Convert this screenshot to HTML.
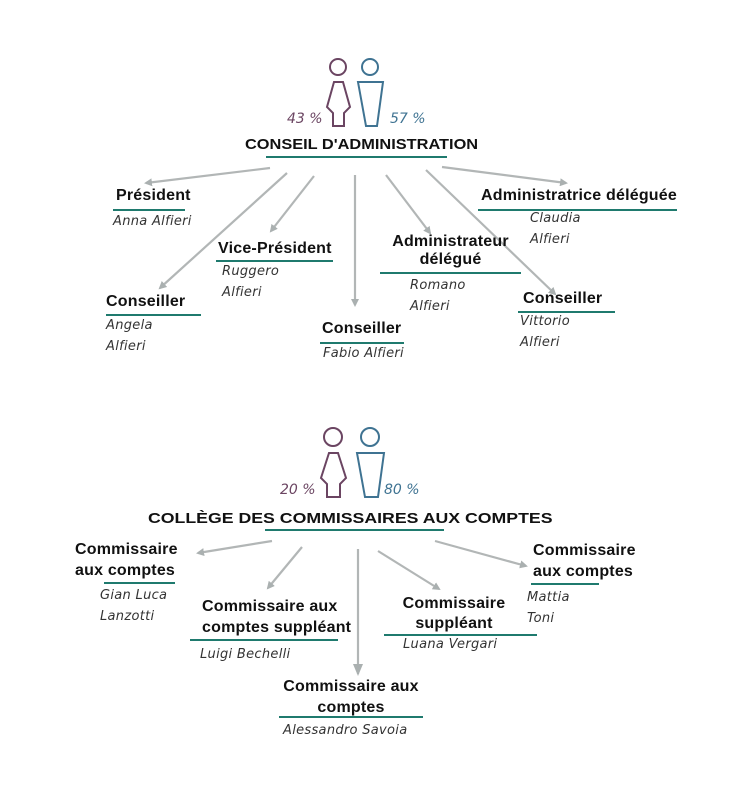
<!DOCTYPE html>
<html><head><meta charset="utf-8"><style>
body{margin:0;width:739px;height:786px;background:#fff;position:relative;overflow:hidden;font-family:"Liberation Sans",Arial,sans-serif}
.b{position:absolute;font-weight:bold;font-size:16px;letter-spacing:0.2px;color:#111;line-height:20px;white-space:nowrap}
.n{position:absolute;font-style:italic;font-size:13px;color:#333;line-height:20.5px;white-space:nowrap;font-family:"DejaVu Sans","Liberation Sans",sans-serif;letter-spacing:0.3px}
.u{position:absolute;height:2px;background:#1f7a6e}
.c{text-align:center}
.t{position:absolute;font-weight:bold;font-size:15px;color:#111;white-space:nowrap;transform-origin:0 50%;line-height:20px}
</style></head><body>
<svg width="739" height="786" style="position:absolute;left:0;top:0">
<defs><marker id="a" markerWidth="8" markerHeight="8" refX="6" refY="4" orient="auto" markerUnits="userSpaceOnUse"><path d="M0,0 L8,4 L0,8 Z" fill="#aab0b0"/></marker>
<marker id="a2" markerWidth="14" markerHeight="10" refX="10" refY="5" orient="auto" markerUnits="userSpaceOnUse"><path d="M0,0 L12,5 L0,10 Z" fill="#aab0b0"/></marker></defs>
<g stroke="#b2b6b6" stroke-width="2.2" fill="none">
<line x1="270" y1="168" x2="146" y2="183" marker-end="url(#a)"/>
<line x1="287" y1="173" x2="160" y2="288" marker-end="url(#a)"/>
<line x1="314" y1="176" x2="271" y2="231" marker-end="url(#a)"/>
<line x1="355" y1="175" x2="355" y2="305" marker-end="url(#a)"/>
<line x1="386" y1="175" x2="430" y2="233" marker-end="url(#a)"/>
<line x1="426" y1="170" x2="555" y2="294" marker-end="url(#a)"/>
<line x1="442" y1="167" x2="566" y2="183" marker-end="url(#a)"/>
<line x1="272" y1="541" x2="198" y2="553" marker-end="url(#a)"/>
<line x1="302" y1="547" x2="268" y2="588" marker-end="url(#a)"/>
<line x1="358" y1="549" x2="358" y2="674" marker-end="url(#a2)"/>
<line x1="378" y1="551" x2="439" y2="589" marker-end="url(#a)"/>
<line x1="435" y1="541" x2="526" y2="566" marker-end="url(#a)"/>
</g>
<g fill="none" stroke-width="2">
<circle cx="338" cy="67" r="8" stroke="#6b4562"/>
<path d="M334,82 L343,82 L350,107 L344,113 L344,126 L333,126 L333,113 L327,107 Z" stroke="#6b4562"/>
<circle cx="370" cy="67" r="8" stroke="#3f7392"/>
<path d="M358,82 L383,82 L377,126 L366,126 Z" stroke="#3f7392"/>
<circle cx="333" cy="437" r="9" stroke="#6b4562"/>
<path d="M329,453 L338,453 L346,478 L340,484 L340,497 L327,497 L327,484 L321,478 Z" stroke="#6b4562"/>
<circle cx="370" cy="437" r="9" stroke="#3f7392"/>
<path d="M357,453 L384,453 L378,497 L365,497 Z" stroke="#3f7392"/>
</g>
<g font-family="DejaVu Sans, Liberation Sans, sans-serif" font-style="italic" font-size="14">
<text x="287" y="123" fill="#6b4562">43 %</text>
<text x="390" y="123" fill="#3f7392">57 %</text>
<text x="280" y="494" fill="#6b4562">20 %</text>
<text x="384" y="494" fill="#3f7392">80 %</text>
</g>
</svg>

<div class="t" style="left:245px;top:135px;transform:scaleX(1.09)">CONSEIL D'ADMINISTRATION</div>
<div class="u" style="left:266px;top:156px;width:181px"></div>

<div class="b" style="left:116px;top:186px">Président</div>
<div class="u" style="left:113px;top:209px;width:72px"></div>
<div class="n" style="left:113px;top:212px">Anna Alfieri</div>

<div class="b" style="left:218px;top:239px">Vice-Président</div>
<div class="u" style="left:216px;top:260px;width:117px"></div>
<div class="n" style="left:222px;top:262px">Ruggero<br>Alfieri</div>

<div class="b c" style="left:380px;top:233px;width:141px;line-height:18px">Administrateur<br>délégué</div>
<div class="u" style="left:380px;top:272px;width:141px"></div>
<div class="n" style="left:410px;top:276px">Romano<br>Alfieri</div>

<div class="b" style="left:481px;top:186px">Administratrice déléguée</div>
<div class="u" style="left:478px;top:209px;width:199px"></div>
<div class="n" style="left:530px;top:209px">Claudia<br>Alfieri</div>

<div class="b" style="left:106px;top:292px">Conseiller</div>
<div class="u" style="left:106px;top:314px;width:95px"></div>
<div class="n" style="left:106px;top:316px">Angela<br>Alfieri</div>

<div class="b" style="left:322px;top:319px">Conseiller</div>
<div class="u" style="left:320px;top:342px;width:84px"></div>
<div class="n" style="left:323px;top:344px">Fabio Alfieri</div>

<div class="b" style="left:523px;top:289px">Conseiller</div>
<div class="u" style="left:518px;top:311px;width:97px"></div>
<div class="n" style="left:520px;top:312px">Vittorio<br>Alfieri</div>

<div class="t" style="left:148px;top:509px;transform:scaleX(1.18)">COLLÈGE DES COMMISSAIRES AUX COMPTES</div>
<div class="u" style="left:265px;top:529px;width:179px"></div>

<div class="b" style="left:75px;top:539px;line-height:21px">Commissaire<br>aux comptes</div>
<div class="u" style="left:104px;top:582px;width:71px"></div>
<div class="n" style="left:100px;top:586px">Gian Luca<br>Lanzotti</div>

<div class="b" style="left:202px;top:596px;line-height:21px">Commissaire aux<br>comptes suppléant</div>
<div class="u" style="left:190px;top:639px;width:148px"></div>
<div class="n" style="left:200px;top:645px">Luigi Bechelli</div>

<div class="b c" style="left:384px;top:594px;width:140px;line-height:20px">Commissaire<br>suppléant</div>
<div class="u" style="left:384px;top:634px;width:153px"></div>
<div class="n" style="left:403px;top:635px">Luana Vergari</div>

<div class="b" style="left:533px;top:540px;line-height:21px">Commissaire<br>aux comptes</div>
<div class="u" style="left:531px;top:583px;width:68px"></div>
<div class="n" style="left:527px;top:588px">Mattia<br>Toni</div>

<div class="b c" style="left:271px;top:676px;width:160px;line-height:21px">Commissaire aux<br>comptes</div>
<div class="u" style="left:279px;top:716px;width:144px"></div>
<div class="n" style="left:283px;top:721px">Alessandro Savoia</div>
</body></html>
